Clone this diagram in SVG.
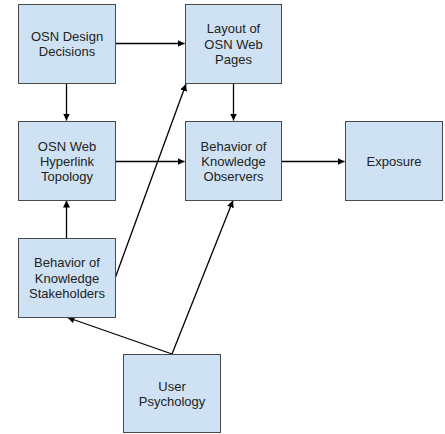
<svg xmlns="http://www.w3.org/2000/svg" width="445" height="434" viewBox="0 0 445 434">
  <style>
    .box { fill: #cfe2f3; stroke: #4a4a4a; stroke-width: 1; }
    .lbl { font-family: "Liberation Sans", Arial, sans-serif; font-size: 13px; fill: #222; text-anchor: middle; }
    .edge { stroke: #000; stroke-width: 1.3; fill: none; marker-end: url(#arrow); }
  </style>
  <defs>
    <marker id="arrow" viewBox="0 0 10 10" refX="10" refY="5" markerWidth="7" markerHeight="7" markerUnits="userSpaceOnUse" orient="auto">
      <path d="M0,0 L10,5 L0,10 z" fill="#000"/>
    </marker>
  </defs>

  <g id="connectors">
    <line class="edge" x1="115.5" y1="43.5" x2="184.5" y2="43.5"/>
    <line class="edge" x1="66.5" y1="83.5" x2="66.5" y2="120.5"/>
    <line class="edge" x1="233.5" y1="83.5" x2="233.5" y2="120.5"/>
    <line class="edge" x1="115.5" y1="161.5" x2="184.5" y2="161.5"/>
    <line class="edge" x1="281.5" y1="161.5" x2="344.5" y2="161.5"/>
    <line class="edge" x1="66.5" y1="238" x2="66.5" y2="200.5"/>
    <line class="edge" x1="115.5" y1="277" x2="186" y2="84"/>
    <line class="edge" x1="172" y1="354" x2="233" y2="200.5"/>
    <line class="edge" x1="172" y1="354" x2="67.5" y2="317.5"/>
  </g>

  <g id="osn-design-decisions">
    <rect class="box" x="18.5" y="4.5" width="97" height="79"/>
    <text class="lbl" x="67" y="41">OSN Design</text>
    <text class="lbl" x="67" y="56">Decisions</text>
  </g>

  <g id="layout-of-osn-web-pages">
    <rect class="box" x="185.5" y="4.5" width="96" height="79"/>
    <text class="lbl" x="233.5" y="33">Layout of</text>
    <text class="lbl" x="233.5" y="48.5">OSN Web</text>
    <text class="lbl" x="233.5" y="64">Pages</text>
  </g>

  <g id="osn-web-hyperlink-topology">
    <rect class="box" x="18.5" y="121.5" width="97" height="79"/>
    <text class="lbl" x="67" y="150.5">OSN Web</text>
    <text class="lbl" x="67" y="166">Hyperlink</text>
    <text class="lbl" x="67" y="181">Topology</text>
  </g>

  <g id="behavior-of-knowledge-observers">
    <rect class="box" x="185.5" y="121.5" width="96" height="79"/>
    <text class="lbl" x="233.5" y="150.5">Behavior of</text>
    <text class="lbl" x="233.5" y="166">Knowledge</text>
    <text class="lbl" x="233.5" y="181">Observers</text>
  </g>

  <g id="exposure">
    <rect class="box" x="345.5" y="121.5" width="97" height="79"/>
    <text class="lbl" x="394" y="166">Exposure</text>
  </g>

  <g id="behavior-of-knowledge-stakeholders">
    <rect class="box" x="18.5" y="238.5" width="97" height="79"/>
    <text class="lbl" x="67" y="267">Behavior of</text>
    <text class="lbl" x="67" y="283">Knowledge</text>
    <text class="lbl" x="67" y="298">Stakeholders</text>
  </g>

  <g id="user-psychology">
    <rect class="box" x="123.5" y="354.5" width="97" height="78"/>
    <text class="lbl" x="172" y="391">User</text>
    <text class="lbl" x="172" y="406">Psychology</text>
  </g>
</svg>
